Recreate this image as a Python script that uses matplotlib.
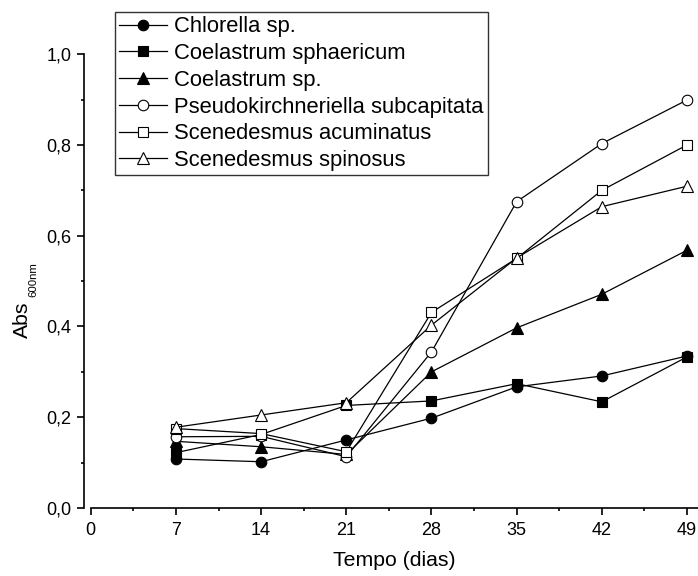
import matplotlib.pyplot as plt
from matplotlib.ticker import MultipleLocator

plt.rcParams["font.family"] = ["Liberation Sans", "DejaVu Sans"]

days = [7, 14, 21, 28, 35, 42, 49]

chlorella = [0.108, 0.102, 0.150, 0.198, 0.267, 0.291, 0.335]
coel_sphaericum = [0.122, 0.162, 0.226, 0.236, 0.274, 0.234, 0.333]
coel_sp = [0.147, 0.135, 0.118, 0.300, 0.397, 0.471, 0.568]
pseudokirch = [0.157, 0.158, 0.113, 0.344, 0.675, 0.803, 0.899]
scen_acuminatus = [0.175, 0.164, 0.124, 0.431, 0.550, 0.700, 0.800]
scen_spinosus = [0.178, 0.205, 0.232, 0.403, 0.551, 0.664, 0.709]

labels = ["Chlorella sp.", "Coelastrum sphaericum", "Coelastrum sp.",
          "Pseudokirchneriella subcapitata", "Scenedesmus acuminatus",
          "Scenedesmus spinosus"]
series = [chlorella, coel_sphaericum, coel_sp, pseudokirch,
          scen_acuminatus, scen_spinosus]
markers = ["o", "s", "^", "o", "s", "^"]
faces = ["black", "black", "black", "white", "white", "white"]
sizes = {"o": 7.6, "s": 6.8, "^": 8.0}

fig = plt.figure(figsize=(6.98, 5.76), dpi=100)
ax = fig.add_axes([0.130, 0.118, 0.870, 0.788])

for vals, lab, m, fc in zip(series, labels, markers, faces):
    ax.plot(days, vals, color="black", lw=0.9, marker=m, ms=sizes[m],
            mfc=fc, mec="black", mew=0.8, label=lab, clip_on=False)

ax.set_xlim(0, 49.9)
ax.set_ylim(0, 1.0)
ax.xaxis.set_major_locator(MultipleLocator(7))
ax.xaxis.set_minor_locator(MultipleLocator(3.5))
ax.yaxis.set_minor_locator(MultipleLocator(0.1))
ax.set_yticks([0, 0.2, 0.4, 0.6, 0.8, 1.0])
ax.set_yticklabels(["0,0", "0,2", "0,4", "0,6", "0,8", "1,0"])

for s in ["top", "right"]:
    ax.spines[s].set_visible(False)
ax.spines["left"].set_position(("outward", 5))
for s in ["left", "bottom"]:
    ax.spines[s].set_linewidth(1.2)

ax.tick_params(which="major", direction="out", length=5, width=1.2, labelsize=13)
ax.tick_params(which="minor", direction="out", length=2.5, width=1.2)
ax.tick_params(axis="x", which="major", pad=5)
ax.tick_params(axis="y", which="major", pad=4)

ax.set_xlabel("Tempo (dias)", fontsize=15.3, labelpad=9)

# y label: "Abs" with a small, separate subscript (Origin style)
fig.text(22 / 698, 1 - 320 / 576, "Abs", rotation=90, ha="center", va="center",
         fontsize=15.3)
fig.text(33 / 698, 1 - 280 / 576, "600nm", rotation=90, ha="center", va="center",
         fontsize=8.2)

leg = ax.legend(loc="upper left", bbox_to_anchor=(115 / 698, 1 - 12 / 576),
                bbox_transform=fig.transFigure, borderaxespad=0,
                fontsize=15.8, frameon=True, fancybox=False, handlelength=2.15,
                handletextpad=0.35, labelspacing=0.26, borderpad=0.2)
leg.get_frame().set_edgecolor("black")
leg.get_frame().set_linewidth(1.0)

fig.savefig("out.png", dpi=100)
